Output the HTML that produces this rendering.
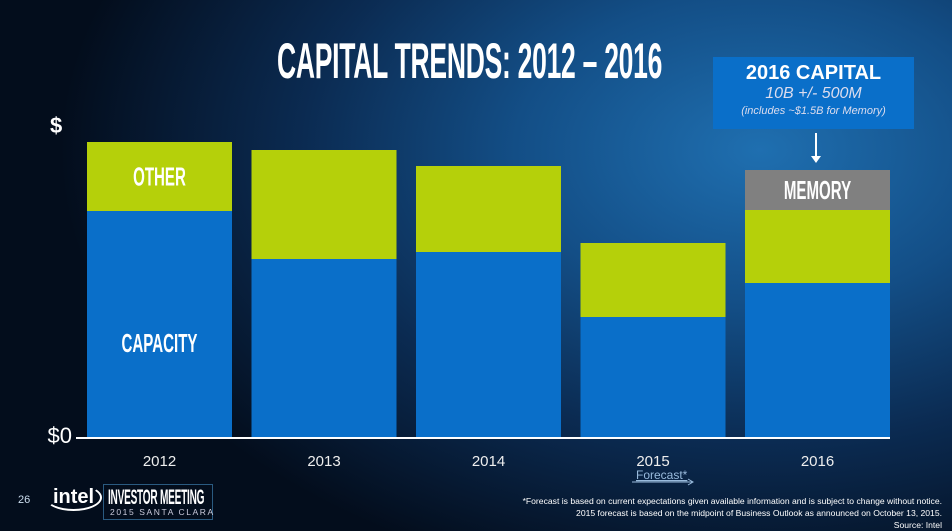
<!DOCTYPE html>
<html><head><meta charset="utf-8"><style>
body{margin:0;width:952px;height:531px;overflow:hidden;font-family:"Liberation Sans",sans-serif}
#bg{position:absolute;left:0;top:0;width:952px;height:531px;background:radial-gradient(ellipse 700px 450px at 760px 150px,#1f6fb0 0%,#134e86 35%,#0b2b52 65%,#030d1c 100%)}
.t{position:absolute;color:#fff;white-space:nowrap}
.cond{font-weight:bold;transform-origin:left top;letter-spacing:-0.5px}
</style></head><body>
<div id="bg"></div>
<div class="t cond" style="left:277px;top:32px;font-size:50px;transform:scaleX(0.53)">CAPITAL TRENDS: 2012 – 2016</div>
<div style="position:absolute;left:713px;top:57px;width:201px;height:72px;background:#0a6fc9;color:#fff;text-align:center">
<div style="font-weight:bold;font-size:20px;margin-top:5px">2016 CAPITAL</div>
<div style="font-style:italic;font-size:16px;color:#dde">10B +/- 500M</div>
<div style="font-style:italic;font-size:11px;color:#dde;margin-top:2px">(includes ~$1.5B for Memory)</div>
</div>
<svg id="c" width="952" height="531" style="position:absolute;left:0;top:0"></svg>
<div class="t" style="left:18px;top:494px;font-size:11px;color:#cde">26</div>
<div class="t" style="left:45px;top:484px;font-size:20px;font-weight:bold;border:2px solid #fff;border-radius:50%;padding:0 6px;border-left-color:transparent;border-top-color:transparent">intel</div>
<div style="position:absolute;left:103px;top:484px;width:108px;height:34px;border:1px solid #2a5a80"></div>
<div class="t cond" style="left:108px;top:486px;font-size:21px;transform:scaleX(0.48)">INVESTOR MEETING</div>
<div class="t" style="left:110px;top:507px;font-size:8.5px;letter-spacing:1.6px;color:#ccd">2015 SANTA CLARA</div>
<div class="t" style="right:10px;top:495px;font-size:8.6px;text-align:right;line-height:12px">*Forecast is based on current expectations given available information and is subject to change without notice.<br>2015 forecast is based on the midpoint of Business Outlook as announced on October 13, 2015.<br>Source: Intel</div>
<script>
const years=["2012","2013","2014","2015","2016"];
const capacity=[226,178,185,120,154];
const other=[69,109,86,74,73];
const memory=[0,0,0,0,40];
const yTicks=["$0","$"];
const NS="http://www.w3.org/2000/svg";
const svg=document.getElementById('c');
const x0=87,step=164.5,bw=145,base=437;
const y=v=>base-v*1.0;
function el(t,a){const e=document.createElementNS(NS,t);for(const k in a)e.setAttribute(k,a[k]);svg.appendChild(e);return e;}
years.forEach((yr,i)=>{
 const x=x0+i*step;
 let r=el('rect',{x:x,y:y(capacity[i]),width:bw,height:base-y(capacity[i]),fill:'#0a6fc9'});
 
 
 r=el('rect',{x:x,y:y(capacity[i]+other[i]),width:bw,height:other[i],fill:'#b5d00a'});
 
 
 if(memory[i]>0){
  r=el('rect',{x:x,y:y(capacity[i]+other[i]+memory[i]),width:bw,height:memory[i],fill:'#808080'});
  
  
  const tm=el('text',{x:x+bw/2,y:y(capacity[i]+other[i]+memory[i]/2)+9,'text-anchor':'middle',fill:'#fff','font-size':26,'font-weight':'bold',transform:`translate(${x+bw/2},0) scale(0.58,1) translate(${-(x+bw/2)},0)`});
  tm.textContent='MEMORY';
  
  
 }
 const t=el('text',{x:x+bw/2,y:466,'text-anchor':'middle',fill:'#eee','font-size':15});
 t.textContent=yr;
 
 
});
const ax=el('line',{x1:76,x2:890,y1:base+1,y2:base+1,stroke:'#fff','stroke-width':2});


let t0=el('text',{x:72,y:y(0)+6,'text-anchor':'end',fill:'#fff','font-size':22});t0.textContent=yTicks[0];


let t1=el('text',{x:50,y:133,fill:'#fff','font-size':22,'font-weight':'bold'});t1.textContent=yTicks[1];


const cx=x0+bw/2;
function lbl(txt,yy,n){const e=el('text',{x:cx,y:yy,'text-anchor':'middle',fill:'#fff','font-size':26,'font-weight':'bold',transform:`translate(${cx},0) scale(0.58,1) translate(${-cx},0)`});e.textContent=txt;

}
lbl('OTHER',y(capacity[0]+other[0]/2)+9,'other-label');
lbl('CAPACITY',352,'capacity-label');
const ar=el('line',{x1:816,x2:816,y1:133,y2:158,stroke:'#fff','stroke-width':2});


const ah=el('path',{d:'M811 156 L821 156 L816 163 Z',fill:'#fff'});


const fc=el('text',{x:636,y:479,fill:'#9bd','font-size':12,'text-decoration':'underline'});fc.textContent='Forecast*';


const fa=el('path',{d:'M632 482 L692 482 M688 479 L693 482 L688 485',stroke:'#9bd',fill:'none'});


</script>
</body></html>
